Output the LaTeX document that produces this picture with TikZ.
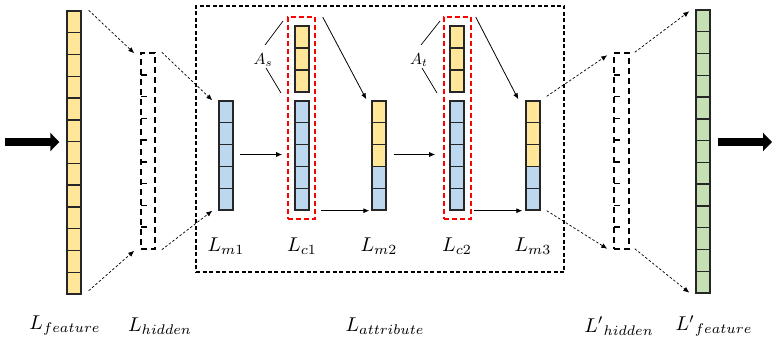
\documentclass[tikz,border=0pt]{standalone}
\usetikzlibrary{arrows.meta,fit,calc}
\definecolor{cyel}{HTML}{FFE699}
\definecolor{cblu}{HTML}{BDD7EE}
\definecolor{cgrn}{HTML}{C5E0B4}
\newcommand\mkcells[6]{%
  \fill[#1] (#2,#3) rectangle (#4,#5);
  \pgfmathtruncatemacro\nlast{#6-1}%
  \foreach \i in {1,...,\nlast}{\draw[cellsep] (#2,{#3+\i*(#5-#3)/#6}) -- (#4,{#3+\i*(#5-#3)/#6});}%
  \draw[cellsep] (#2,#3) rectangle (#4,#5);
}
\newcommand\mkhidsep[5]{%
  \pgfmathtruncatemacro\nlast{#5-1}%
  \foreach \i in {1,...,\nlast}{\draw[hidsep] (#1,{#2+\i*(#4-#2)/#5}) -- (#3,{#2+\i*(#4-#2)/#5});}%
}
\begin{document}
\begin{tikzpicture}[x=1pt,y=-1pt,
  cellsep/.style={line width=1.4pt, draw=black!85},
  colbox/.style={draw=black!85, line width=1.4pt, inner sep=0pt},
  hidbox/.style={draw=black, line width=1.5pt, dash pattern=on 6pt off 4pt, inner sep=0pt},
  hidsep/.style={line width=1.5pt, dash pattern=on 6pt off 30pt},
  redbox/.style={draw=red, line width=1.6pt, dash pattern=on 5pt off 3pt, inner sep=0pt},
  mainbox/.style={draw=black, line width=1.3pt, dash pattern=on 4pt off 2.5pt, inner sep=0pt},
  darr/.style={line width=0.7pt, dash pattern=on 2.5pt off 2pt, -{Latex[length=6pt,width=5pt]}},
  sarr/.style={line width=0.8pt, -{Latex[length=6pt,width=5pt]}},
  bigarr/.style={line width=8pt, -{Triangle[length=9pt 0 0, width=18pt 0 0]}},
  lab/.style={scale=2.0, inner sep=0pt},
  alab/.style={scale=1.6, inner sep=0pt},
]
\useasboundingbox (0,0) rectangle (773,342);

% main dashed box
\node[mainbox, fit={(196,6) (564,272)}] (attr) {};

% feature column
\mkcells{cyel}{67}{11}{81}{294}{13}
\node[colbox, fit={(67,11) (81,294)}] (feat) {};
% hidden column
\node[hidbox, fit={(141,53) (155,249)}] (hid) {};
\mkhidsep{141}{53}{155}{249}{9}
% Lm1
\mkcells{cblu}{219}{101}{233}{210}{5}
\node[colbox, fit={(219,101) (233,210)}] (m1) {};
% Lc1
\mkcells{cyel}{295}{26}{309}{92}{3}
\node[colbox, fit={(295,26) (309,92)}] (c1y) {};
\mkcells{cblu}{295}{101}{309}{210}{5}
\node[colbox, fit={(295,101) (309,210)}] (c1b) {};
\node[redbox, fit={(288,17) (315,219)}] (c1box) {};
% Lm2
\mkcells{cyel}{372}{101}{386}{166.4}{3}
\mkcells{cblu}{372}{166.4}{386}{210}{2}
\node[colbox, fit={(372,101) (386,210)}] (m2) {};
% Lc2
\mkcells{cyel}{450}{26}{464}{92}{3}
\node[colbox, fit={(450,26) (464,92)}] (c2y) {};
\mkcells{cblu}{450}{101}{464}{210}{5}
\node[colbox, fit={(450,101) (464,210)}] (c2b) {};
\node[redbox, fit={(444,17) (471,219)}] (c2box) {};
% Lm3
\mkcells{cyel}{526}{101}{540}{166.4}{3}
\mkcells{cblu}{526}{166.4}{540}{210}{2}
\node[colbox, fit={(526,101) (540,210)}] (m3) {};
% hidden'
\node[hidbox, fit={(614,53) (629,249)}] (hidp) {};
\mkhidsep{614}{53}{629}{249}{9}
% feature'
\mkcells{cgrn}{696}{10}{710}{293}{13}
\node[colbox, fit={(696,10) (710,293)}] (featp) {};

% big arrows
\coordinate (inc) at (5,142);
\coordinate (outc) at (773,142);
\draw[bigarr, shorten >=7pt] (inc) -- (inc -| feat.west);
\draw[bigarr, shorten <=7pt, shorten >=1pt] (outc -| featp.east) -- (outc);

% dashed arrows
\draw[darr] ([xshift=7pt]feat.north east) -- ([xshift=-6pt,yshift=-1pt]hid.north west);
\draw[darr] ([xshift=7pt,yshift=4pt]feat.south east) -- ([xshift=-6pt,yshift=-1pt]hid.south west);
\draw[darr] ([xshift=6pt]hid.north east) -- ([xshift=-6pt]m1.north west);
\draw[darr] ([xshift=6pt]hid.south east) -- ([xshift=-6pt]m1.south west);
\draw[darr] ([xshift=6pt,yshift=4pt]m3.north east) -- ([xshift=-6pt,yshift=-3pt]hidp.north west);
\draw[darr] ([xshift=6pt]m3.south east) -- ([xshift=-6pt,yshift=1pt]hidp.south west);
\draw[darr] ([xshift=5pt]hidp.north east) -- ([xshift=-6pt,yshift=-2pt]featp.north west);
\draw[darr] ([xshift=5pt,yshift=1pt]hidp.south east) -- ([xshift=-6pt,yshift=1pt]featp.south west);

% solid arrows
\draw[sarr, shorten <=6pt, shorten >=5pt] ([yshift=1pt]m1.east) -- ([yshift=1pt]m1.east -| c1box.west);
\draw[sarr] ([xshift=7pt,yshift=-1pt]c1box.north east) -- ([xshift=-5pt,yshift=1pt]m2.north west);
\draw[sarr, shorten <=5pt, shorten >=2pt] (c1b.south east -| c1box.east) -- (m2.south west);
\draw[sarr, shorten <=7pt, shorten >=8pt] ([yshift=1pt]m2.east) -- ([yshift=1pt]m2.east -| c2box.west);
\draw[sarr] ([xshift=4pt,yshift=-1pt]c2box.north east) -- ([xshift=-7pt,yshift=1pt]m3.north west);
\draw[sarr, shorten <=2pt, shorten >=3pt] (c2b.south east -| c2box.east) -- (m3.south west);

% attention labels
\node[alab] (as) at (263,60) {$A_s$};
\coordinate (as1) at (283,21);
\coordinate (as2) at (281,93);
\draw[line width=0.7pt] (265,45) -- (as1);
\draw[line width=0.7pt] (266,68) -- (as2);
\node[alab] (at) at (419,60) {$A_t$};
\coordinate (at1) at (440,21);
\coordinate (at2) at (437,93);
\draw[line width=0.7pt] (421,45) -- (at1);
\draw[line width=0.7pt] (422,68) -- (at2);

% inner labels
\node[lab] (lm1) at (226,246) {$L_{m1}$};
\node[lab] (lc1) at (302,246) {$L_{c1}$};
\node[lab] (lm2) at (379,246) {$L_{m2}$};
\node[lab] (lc2) at (457,246) {$L_{c2}$};
\node[lab] (lm3) at (533,246) {$L_{m3}$};

% bottom labels
\node[lab] (lfeat) at (65,326) {$L_{feature}$};
\node[lab] (lhid) at (160,326) {$L_{hidden}$};
\node[lab] (lattr) at (385,326) {$L_{attribute}$};
\node[lab] (lhidp) at (619,326) {${L'}_{hidden}$};
\node[lab] (lfeatp) at (714,326) {${L'}_{feature}$};
\end{tikzpicture}
\end{document}
